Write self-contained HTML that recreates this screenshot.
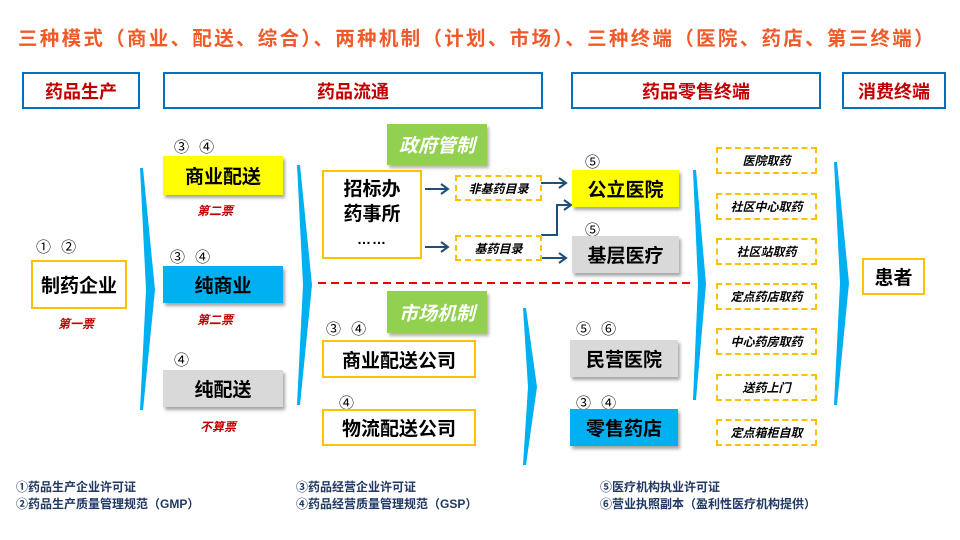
<!DOCTYPE html><html><head><meta charset="utf-8"><style>
body{margin:0;width:960px;height:540px;background:#fff;position:relative;overflow:hidden;font-family:"Liberation Sans","Noto Sans CJK SC",sans-serif;}
.a{position:absolute;box-sizing:border-box;}
.hd{border:2px solid #0070c0;color:#c00000;font-weight:bold;font-size:18px;display:flex;align-items:center;justify-content:center;}
.bx{display:flex;align-items:center;justify-content:center;font-weight:bold;font-size:19px;color:#000;box-shadow:2px 3px 3px rgba(0,0,0,.35);}
.ob{border:2px solid #ffc000;background:#fff;display:flex;align-items:center;justify-content:center;font-weight:bold;font-size:19px;}
.dd{border:2px dashed #ffc000;display:flex;align-items:center;justify-content:center;font-style:italic;font-weight:bold;font-size:12px;}
.n{font-size:15px;color:#000;word-spacing:6px;}
.r{color:#c00000;font-style:italic;font-weight:bold;font-size:12px;}
.g{background:#92d050;color:#fff;font-style:italic;font-weight:bold;font-size:19px;display:flex;align-items:center;justify-content:center;box-shadow:2px 3px 3px rgba(0,0,0,.3);}
.f{color:#1f3864;font-weight:bold;font-size:12px;line-height:17px;}
</style></head><body>
<div class="a" style="left:18px;top:22px;color:#f05a28;font-weight:bold;font-size:19.5px;white-space:nowrap;letter-spacing:2.3px;">三种模式（商业、配送、综合）、两种机制（计划、市场）、三种终端（医院、药店、第三终端）</div>
<div class="a hd" style="left:22px;top:72px;width:118px;height:37px;">药品生产</div>
<div class="a hd" style="left:163px;top:72px;width:380px;height:37px;">药品流通</div>
<div class="a hd" style="left:571px;top:72px;width:250px;height:37px;">药品零售终端</div>
<div class="a hd" style="left:842px;top:72px;width:104px;height:37px;">消费终端</div>

<svg class="a" style="left:0;top:0" width="960" height="540">
<g fill="#00b0f0">
<polygon points="140,168 143,168 155,290 143,410 140,410 146,290"/>
<polygon points="297,165 300,165 312,285 300,405 297,405 303,285"/>
<polygon points="523,308 526,308 537,387 526,465 523,465 528,387"/>
<polygon points="693,170 696,170 706,284 696,400 693,400 698,284"/>
<polygon points="834,162 837,162 849,283 837,405 834,405 840,283"/>
</g>
<line x1="318" y1="283" x2="690" y2="283" stroke="#e00" stroke-width="2" stroke-dasharray="8,5"/>
<g stroke="#1f4e79" stroke-width="2" fill="none">
<line x1="425" y1="189" x2="448" y2="189"/><polyline points="441,184 448,189 441,194"/>
<line x1="425" y1="247" x2="448" y2="247"/><polyline points="441,242 448,247 441,252"/>
<line x1="541" y1="183" x2="566" y2="183"/><polyline points="559,178 566,183 559,188"/>
<polyline points="541,235 557,235 557,205 571,205"/><polyline points="564,200 571,205 564,210"/>
<line x1="541" y1="258" x2="566" y2="258"/><polyline points="559,253 566,258 559,263"/>
</g>
</svg>

<div class="a n" style="left:36px;top:236px;">① ②</div>
<div class="a ob" style="left:31px;top:260px;width:96px;height:49px;">制药企业</div>
<div class="a r" style="left:58px;top:315px;">第一票</div>

<div class="a n" style="left:174px;top:136px;">③ ④</div>
<div class="a bx" style="left:163px;top:156px;width:120px;height:39px;background:#ffff00;">商业配送</div>
<div class="a r" style="left:197px;top:202px;">第二票</div>
<div class="a n" style="left:170px;top:246px;">③ ④</div>
<div class="a bx" style="left:163px;top:266px;width:120px;height:37px;background:#00b0f0;">纯商业</div>
<div class="a r" style="left:197px;top:311px;">第二票</div>
<div class="a n" style="left:174px;top:349px;">④</div>
<div class="a bx" style="left:163px;top:370px;width:120px;height:37px;background:#d9d9d9;">纯配送</div>
<div class="a r" style="left:200px;top:418px;">不算票</div>

<div class="a g" style="left:387px;top:124px;width:100px;height:41px;">政府管制</div>
<div class="a ob" style="left:322px;top:170px;width:100px;height:89px;flex-direction:column;line-height:25px;">招标办<br>药事所<br><span style="font-size:14px;letter-spacing:1px">……</span></div>
<div class="a dd" style="left:455px;top:175px;width:87px;height:26px;">非基药目录</div>
<div class="a dd" style="left:455px;top:235px;width:87px;height:26px;">基药目录</div>
<div class="a n" style="left:585px;top:151px;">⑤</div>
<div class="a bx" style="left:572px;top:170px;width:107px;height:37px;background:#ffff00;">公立医院</div>
<div class="a n" style="left:585px;top:219px;">⑤</div>
<div class="a bx" style="left:572px;top:236px;width:107px;height:37px;background:#d9d9d9;">基层医疗</div>

<div class="a g" style="left:387px;top:291px;width:100px;height:42px;">市场机制</div>
<div class="a n" style="left:326px;top:318px;">③ ④</div>
<div class="a ob" style="left:322px;top:340px;width:154px;height:38px;">商业配送公司</div>
<div class="a n" style="left:339px;top:392px;">④</div>
<div class="a ob" style="left:322px;top:409px;width:154px;height:37px;">物流配送公司</div>
<div class="a n" style="left:576px;top:318px;">⑤ ⑥</div>
<div class="a bx" style="left:570px;top:340px;width:108px;height:37px;background:#d9d9d9;">民营医院</div>
<div class="a n" style="left:576px;top:392px;">③ ④</div>
<div class="a bx" style="left:570px;top:409px;width:108px;height:37px;background:#00b0f0;">零售药店</div>

<div class="a dd" style="left:716px;top:147px;width:101px;height:27px;">医院取药</div>
<div class="a dd" style="left:716px;top:193px;width:101px;height:27px;">社区中心取药</div>
<div class="a dd" style="left:716px;top:238px;width:101px;height:27px;">社区站取药</div>
<div class="a dd" style="left:716px;top:283px;width:101px;height:27px;">定点药店取药</div>
<div class="a dd" style="left:716px;top:328px;width:101px;height:27px;">中心药房取药</div>
<div class="a dd" style="left:716px;top:374px;width:101px;height:27px;">送药上门</div>
<div class="a dd" style="left:716px;top:419px;width:101px;height:27px;">定点箱柜自取</div>
<div class="a ob" style="left:862px;top:258px;width:63px;height:37px;">患者</div>

<div class="a f" style="left:16px;top:479px;">①药品生产企业许可证<br>②药品生产质量管理规范（GMP）</div>
<div class="a f" style="left:296px;top:479px;">③药品经营企业许可证<br>④药品经营质量管理规范（GSP）</div>
<div class="a f" style="left:600px;top:479px;">⑤医疗机构执业许可证<br>⑥营业执照副本（盈利性医疗机构提供）</div>
</body></html>
